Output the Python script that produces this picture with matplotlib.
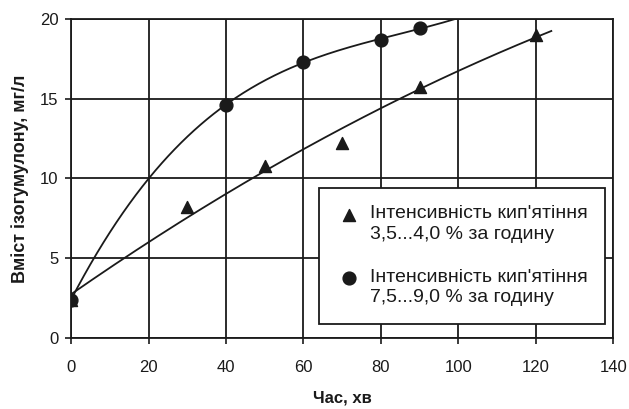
import matplotlib.pyplot as plt
import numpy as np

plt.rcParams['font.family'] = ['Liberation Sans', 'DejaVu Sans']
ink = '#1a1a1a'
plt.rcParams['text.color'] = ink
plt.rcParams['axes.labelcolor'] = ink
plt.rcParams['xtick.color'] = ink
plt.rcParams['ytick.color'] = ink

# Boiling intensity 3.5...4.0 % per hour
t_low = [0, 30, 50, 70, 90, 120]
c_low = [2.4, 8.2, 10.8, 12.2, 15.7, 19.0]

# Boiling intensity 7.5...9.0 % per hour
t_high = [0, 40, 60, 80, 90]
c_high = [2.4, 14.6, 17.3, 18.7, 19.4]

label_low = "Інтенсивність кип'ятіння\n3,5...4,0 % за годину"
label_high = "Інтенсивність кип'ятіння\n7,5...9,0 % за годину"

fig = plt.figure(figsize=(6.29, 4.09), dpi=100)
ax = fig.add_axes([0.113, 0.174, 0.862, 0.78])

ax.grid(color=ink, linewidth=1.3, zorder=0)

# trend lines fitted to the points
p_low = np.polyfit(t_low, c_low, 2)
xs = np.linspace(0, 124, 200)
ax.plot(xs, np.polyval(p_low, xs), color=ink, lw=1.3, zorder=2)

p_high = np.polyfit(t_high, c_high, 3)
xs2 = np.linspace(0, 100, 300)
ax.plot(xs2, np.polyval(p_high, xs2), color=ink, lw=1.3, zorder=2)

ax.scatter(t_low, c_low, marker='^', s=75, color=ink, zorder=3, label=label_low)
ax.scatter(t_high, c_high, marker='o', s=85, color=ink, zorder=3, label=label_high)

ax.set_xlim(0, 140)
ax.set_ylim(0, 20)
ax.set_xticks(range(0, 141, 20))
ax.set_yticks(range(0, 21, 5))
ax.tick_params(labelsize=12, length=4, width=1.2)
ax.tick_params(axis='x', pad=12)
ax.tick_params(axis='y', pad=5)

for s in ax.spines.values():
    s.set_color(ink)
    s.set_linewidth(1.3)

ax.set_xlabel("Час, хв", fontsize=12, fontweight='bold', labelpad=11)
ax.set_ylabel("Вміст ізогумулону, мг/л", fontsize=13, fontweight='bold', labelpad=8)

leg = ax.legend(loc='upper left', bbox_to_anchor=(0.458, 0.470), fontsize=14,
                frameon=True, fancybox=False, edgecolor=ink, framealpha=1,
                labelspacing=1.3, handletextpad=0.5, borderpad=0.9, handlelength=1.2,
                borderaxespad=0, scatterpoints=1, scatteryoffsets=[1.2])
leg.get_frame().set_linewidth(1.3)
for t in leg.get_texts():
    t.set_linespacing(1.3)

fig.savefig('out.png', dpi=100, facecolor='white')
